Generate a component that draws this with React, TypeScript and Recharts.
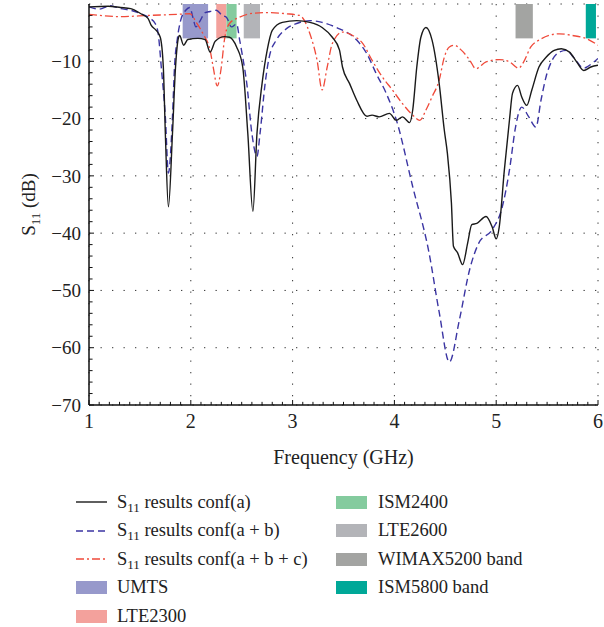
import React from 'react';
import {LineChart, Line, XAxis, YAxis, CartesianGrid, ReferenceArea, ReferenceLine} from 'recharts';

// S11 conf(a) – black solid
const freqA = [1.0, 1.19, 1.31, 1.41, 1.51, 1.58, 1.61, 1.66, 1.7, 1.73, 1.75, 1.78, 1.82, 1.85, 1.88, 1.89, 1.93, 1.97, 2.07, 2.14, 2.19, 2.24, 2.33, 2.38, 2.45, 2.51, 2.56, 2.61, 2.65, 2.7, 2.75, 2.8, 2.9, 3.04, 3.17, 3.29, 3.39, 3.46, 3.49, 3.56, 3.63, 3.73, 3.78, 3.85, 3.95, 4.02, 4.08, 4.15, 4.18, 4.22, 4.26, 4.31, 4.37, 4.44, 4.49, 4.52, 4.56, 4.58, 4.62, 4.67, 4.72, 4.76, 4.81, 4.9, 4.96, 5.0, 5.03, 5.08, 5.13, 5.16, 5.21, 5.25, 5.3, 5.35, 5.42, 5.49, 5.57, 5.64, 5.72, 5.79, 5.86, 5.93, 6.0];
const s11A = [-0.5, -0.4, -0.6, -0.8, -1.7, -2.5, -3.7, -4.6, -5.8, -11, -22.6, -35.4, -22.6, -11, -5.8, -5.5, -7.2, -6.2, -6.0, -6.2, -8.4, -6.5, -5.7, -5.8, -7.5, -11, -22.6, -36.2, -22.6, -13.9, -8.1, -4.6, -3.2, -2.9, -3.2, -4.1, -5.8, -8.0, -11, -13.9, -16.8, -19.6, -19.4, -19.7, -19.1, -20.3, -19.7, -20.7, -18.5, -11, -5.8, -4.1, -6.3, -13.9, -22, -26, -34.7, -42.3, -43.4, -45.5, -41.7, -38.5, -38.3, -37.1, -38.9, -41, -38.9, -29, -20.3, -15.6, -14.2, -16.2, -17.7, -15, -11, -9.3, -8.1, -7.8, -8.4, -10.1, -11.6, -11, -10.7];

// S11 conf(a + b) – blue dashed
const freqB = [1.0, 1.1, 1.21, 1.31, 1.41, 1.51, 1.6, 1.65, 1.68, 1.71, 1.75, 1.78, 1.82, 1.84, 1.87, 1.9, 1.95, 1.99, 2.02, 2.05, 2.09, 2.14, 2.19, 2.25, 2.31, 2.35, 2.4, 2.45, 2.48, 2.51, 2.55, 2.6, 2.65, 2.68, 2.73, 2.77, 2.84, 2.94, 3.04, 3.17, 3.29, 3.43, 3.63, 3.73, 3.82, 3.92, 4.02, 4.18, 4.34, 4.44, 4.54, 4.64, 4.74, 4.83, 4.96, 5.06, 5.13, 5.19, 5.23, 5.25, 5.32, 5.39, 5.44, 5.49, 5.55, 5.62, 5.69, 5.76, 5.86, 5.94, 6.0];
const s11B = [-0.5, -0.9, -0.3, -0.8, -1.1, -1.7, -2.5, -3.4, -5.2, -11, -19.7, -29.5, -19.7, -11, -5.8, -2.9, -1.1, -0.6, -2.3, -4.0, -3.0, -1.5, -1.3, -1.1, -2.0, -2.3, -4.0, -3.5, -6.3, -9.3, -13.9, -22.6, -26.6, -22.6, -13.9, -9.3, -6.3, -4.3, -3.4, -2.9, -3.2, -4.1, -6.3, -8.7, -12.1, -15.6, -20.3, -31.9, -43.4, -53.8, -62.5, -55, -46.3, -41.7, -39.4, -35.4, -29, -21.5, -18.5, -18.0, -19.7, -21.5, -16.8, -12.7, -9.8, -8.4, -8.1, -9.3, -11.2, -10.4, -9.5];

// S11 conf(a + b + c) – red dash-dot
const freqC = [1.0, 1.31, 1.58, 1.87, 1.99, 2.06, 2.12, 2.19, 2.22, 2.26, 2.3, 2.33, 2.38, 2.48, 2.58, 2.75, 2.94, 3.07, 3.17, 3.24, 3.29, 3.34, 3.39, 3.49, 3.59, 3.69, 3.78, 3.88, 3.98, 4.08, 4.18, 4.25, 4.31, 4.37, 4.44, 4.49, 4.54, 4.59, 4.66, 4.74, 4.8, 4.9, 5.03, 5.13, 5.22, 5.27, 5.34, 5.42, 5.62, 5.75, 5.88, 6.0];
const s11C = [-1.8, -2.2, -2.0, -1.8, -1.7, -3.4, -5.2, -8.1, -11, -14.3, -11, -6.3, -3.4, -2.3, -1.7, -1.5, -1.7, -2.0, -5.2, -9.8, -15, -11, -6.9, -4.9, -5.5, -6.9, -9.8, -12.7, -15, -17.4, -19.4, -20.3, -18.5, -16.2, -13.3, -9.3, -7.5, -7.2, -8.1, -9.8, -11.3, -10.1, -9.7, -10.1, -11.2, -10.1, -7.5, -6.3, -5.2, -5.5, -6.0, -7.2];

// frequency bands (GHz)
const bandNames = ['UMTS', 'LTE2300', 'ISM2400', 'LTE2600', 'WIMAX5200 band', 'ISM5800 band'];
const bandStart = [1.92, 2.25, 2.35, 2.52, 5.19, 5.88];
const bandEnd = [2.17, 2.35, 2.45, 2.68, 5.36, 5.98];
const bandColors = ['#9799cb', '#f3a19c', '#84cb9e', '#b3b4b8', '#a3a4a2', '#00a898'];
const bandDepth = -6;

const xTicks = [1, 2, 3, 4, 5, 6];
const yTicks = [-70, -60, -50, -40, -30, -20, -10];

const toRows = (f: number[], s: number[]) => f.map((x, i) => ({f: x, s: s[i]}));
const dataA = toRows(freqA, s11A);
const dataB = toRows(freqB, s11B);
const dataC = toRows(freqC, s11C);

// minor tick marks (axis decoration)
const xMinor: number[] = [];
for (let i = 11; i < 60; i++) if (i % 10 !== 0) xMinor.push(i / 10);
const yMinor: number[] = [];
for (let v = -68; v < 0; v += 2) if (v % 10 !== 0) yMinor.push(v);

const FONT = '"Liberation Serif", "Times New Roman", serif';

// the page should be exactly the chart, no body margin / scrollbars
if (typeof document !== 'undefined') {
    document.body.style.margin = '0';
    document.body.style.overflow = 'hidden';
}

const fmtY = (v: number) => (v < 0 ? '\u2212' + Math.abs(v) : String(v));

const YLabel = (props: any) => {
    const vb = props.viewBox || {x: 0, y: 4, width: 89, height: 401};
    const cx = 35;
    const cy = vb.y + vb.height / 2;
    return (
        <text x={cx} y={cy} transform={`rotate(-90, ${cx}, ${cy})`} textAnchor='middle'
              fontFamily={FONT} fontSize={19} fill='#222'>
            <tspan>S</tspan>
            <tspan fontSize={13} dy={5}>11</tspan>
            <tspan dy={-5}> (dB)</tspan>
        </text>
    );
};

const lineEntries = [
    {label: 'results conf(a)', color: '#1a1a1a', dash: undefined},
    {label: 'results conf(a + b)', color: '#3b35a3', dash: '7 4'},
    {label: 'results conf(a + b + c)', color: '#f04a3a', dash: '8 3 2 3'},
];

export default function App() {
    const legendRow = 28.5;
    const legendTop = 488;
    const bandLegend = bandNames.map((n, i) => ({name: n, color: bandColors[i]}));
    const leftCol = [
        ...lineEntries.map((e) => ({kind: 'line' as const, ...e})),
        ...bandLegend.slice(0, 2).map((b) => ({kind: 'band' as const, ...b})),
    ];
    const rightCol = bandLegend.slice(2);

    return (
        <div style={{position: 'relative', width: 604, height: 627, overflow: 'hidden', background: '#fff', fontFamily: FONT}}>
            <LineChart width={604} height={470} margin={{top: 4, right: 6, bottom: 0, left: 0}}>
                <CartesianGrid stroke='#333' strokeDasharray='1.3 10.2' />
                {bandStart.map((x1, i) => (
                    <ReferenceArea key={bandNames[i]} x1={x1} x2={bandEnd[i]} y1={bandDepth} y2={0}
                                   fill={bandColors[i]} fillOpacity={1} stroke='none' ifOverflow='visible' />
                ))}
                <XAxis dataKey='f' type='number' domain={[1, 6]} ticks={xTicks} allowDataOverflow
                       height={65} tickSize={-5} tickMargin={14}
                       axisLine={{stroke: '#111', strokeWidth: 1.5}} tickLine={{stroke: '#111'}}
                       tick={{fontFamily: FONT, fontSize: 20, fill: '#222'}}
                       label={{value: 'Frequency (GHz)', position: 'insideBottom', offset: 6,
                           style: {fontFamily: FONT, fontSize: 20, fill: '#222'}}} />
                <XAxis xAxisId='top' orientation='top' type='number' domain={[1, 6]} ticks={xTicks}
                       height={0} tickSize={-5} tick={false}
                       axisLine={{stroke: '#777', strokeWidth: 1.5}} tickLine={{stroke: '#333'}} />
                <YAxis type='number' domain={[-70, 0]} ticks={yTicks} allowDataOverflow width={89}
                       tickSize={-5} tickMargin={13} tickFormatter={fmtY}
                       axisLine={{stroke: '#111', strokeWidth: 1.5}} tickLine={{stroke: '#111'}}
                       tick={{fontFamily: FONT, fontSize: 19, fill: '#222'}}
                       label={{content: (p: any) => <YLabel {...p} />}} />
                <YAxis yAxisId='right' orientation='right' type='number' domain={[-70, 0]} ticks={yTicks}
                       width={0} tickSize={-5} tick={false}
                       axisLine={{stroke: '#777', strokeWidth: 1.5}} tickLine={{stroke: '#333'}} />
                {xMinor.map((x) => (
                    <ReferenceLine key={'xm' + x} segment={[{x, y: -70}, {x, y: -69.45}]} stroke='#111' ifOverflow='visible' />
                ))}
                {yMinor.map((y) => (
                    <ReferenceLine key={'ym' + y} segment={[{x: 1, y}, {x: 1.035, y}]} stroke='#111' ifOverflow='visible' />
                ))}
                <Line data={dataB} dataKey='s' type='monotoneX' stroke='#3b35a3' strokeWidth={1.4}
                      strokeDasharray='7 4' dot={false} isAnimationActive={false} />
                <Line data={dataC} dataKey='s' type='monotoneX' stroke='#f04a3a' strokeWidth={1.3}
                      strokeDasharray='8 3 2 3' dot={false} isAnimationActive={false} />
                <Line data={dataA} dataKey='s' type='monotoneX' stroke='#1a1a1a' strokeWidth={1.4}
                      dot={false} isAnimationActive={false} />
            </LineChart>

            {leftCol.map((e, i) => (
                <div key={'l' + i} style={{position: 'absolute', left: 76, top: legendTop + i * legendRow, height: 28,
                    display: 'flex', alignItems: 'center', fontSize: 18.5, color: '#222', whiteSpace: 'nowrap'}}>
                    {e.kind === 'line' ? (
                        <svg width={31} height={10} style={{marginRight: 10}}>
                            <line x1={0} y1={5} x2={31} y2={5} stroke={e.color} strokeWidth={1.4} strokeDasharray={e.dash} />
                        </svg>
                    ) : (
                        <span style={{display: 'inline-block', width: 31, height: 13, background: e.color, marginRight: 10}} />
                    )}
                    {e.kind === 'line' ? (
                        <span>S<sub style={{fontSize: 13, verticalAlign: '-4px', lineHeight: 0}}>11</sub> {e.label}</span>
                    ) : (
                        <span>{e.name}</span>
                    )}
                </div>
            ))}
            {rightCol.map((b, i) => (
                <div key={'r' + i} style={{position: 'absolute', left: 336, top: legendTop + i * legendRow, height: 28,
                    display: 'flex', alignItems: 'center', fontSize: 18.5, color: '#222', whiteSpace: 'nowrap'}}>
                    <span style={{display: 'inline-block', width: 31, height: 13, background: b.color, marginRight: 11}} />
                    <span>{b.name}</span>
                </div>
            ))}
        </div>
    );
}
